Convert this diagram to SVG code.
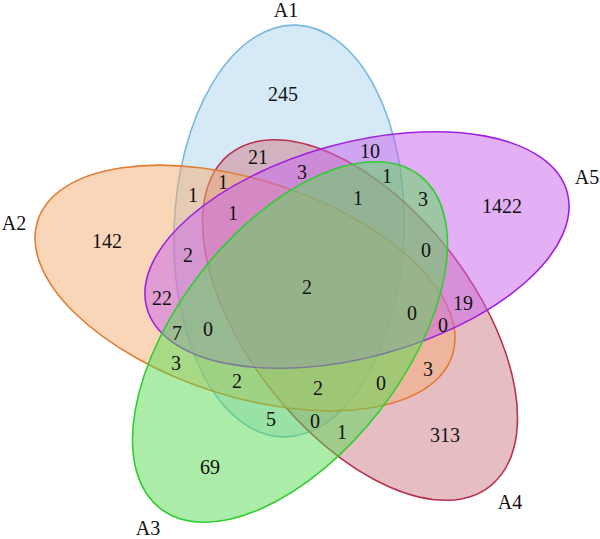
<svg xmlns="http://www.w3.org/2000/svg" width="600" height="539" viewBox="0 0 600 539">
<style>
.e{fill-opacity:0.5;stroke-width:1.6}
text{font-family:"Liberation Serif","DejaVu Serif",serif;font-size:20px;fill:#111;text-anchor:middle}
</style>
<rect width="600" height="539" fill="#fff"/>
<g id="A1">
<ellipse class="e" cx="289" cy="231" rx="115" ry="206" transform="rotate(2 289 231)" fill="#add3ed" stroke="#7ab8dd"/>
</g>
<g id="A4">
<ellipse class="e" cx="360" cy="320" rx="211" ry="113" transform="rotate(52 360 320)" fill="#cf7b89" stroke="#b83250"/>
</g>
<g id="A2">
<ellipse class="e" cx="245" cy="288" rx="218" ry="108" transform="rotate(18 245 288)" fill="#f3ad71" stroke="#e07d33"/>
</g>
<g id="A5">
<ellipse class="e" cx="357" cy="250" rx="218" ry="107" transform="rotate(-15.4 357 250)" fill="#c862ee" stroke="#a020e0"/>
</g>
<g id="A3">
<ellipse class="e" cx="290" cy="342" rx="211" ry="113" transform="rotate(-52 290 342)" fill="#58dc52" stroke="#33cc33"/>
</g>
<g id="labels">
<text x="286" y="17">A1</text>
<text x="14" y="230">A2</text>
<text x="148" y="535">A3</text>
<text x="510" y="509">A4</text>
<text x="587" y="184">A5</text>
</g>
<g id="counts">
<text x="283" y="101">245</text>
<text x="258" y="164">21</text>
<text x="370" y="158">10</text>
<text x="193" y="202">1</text>
<text x="223" y="189">1</text>
<text x="302" y="179">3</text>
<text x="387" y="183">1</text>
<text x="423" y="206">3</text>
<text x="233" y="220">1</text>
<text x="358" y="205">1</text>
<text x="502" y="213">1422</text>
<text x="107" y="248">142</text>
<text x="188" y="262">2</text>
<text x="307" y="294">2</text>
<text x="426" y="257">0</text>
<text x="162" y="305">22</text>
<text x="463" y="310">19</text>
<text x="177" y="340">7</text>
<text x="208" y="336">0</text>
<text x="412" y="320">0</text>
<text x="443" y="332">0</text>
<text x="176" y="370">3</text>
<text x="237" y="388">2</text>
<text x="318" y="395">2</text>
<text x="381" y="390">0</text>
<text x="428" y="376">3</text>
<text x="271" y="426">5</text>
<text x="315" y="428">0</text>
<text x="342" y="439">1</text>
<text x="445" y="442">313</text>
<text x="210" y="474">69</text>
</g>
</svg>
